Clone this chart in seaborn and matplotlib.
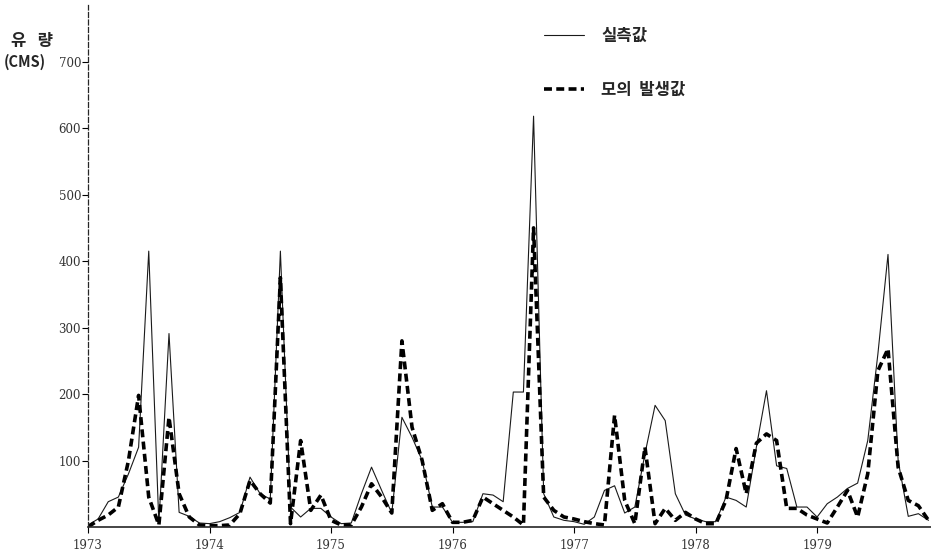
import numpy as np
import pandas as pd
import matplotlib
matplotlib.use('Agg')
from matplotlib import pyplot as plt
import seaborn as sns

# monthly flow 1973-01 .. 1979-12 (CMS)
observed = [3, 12, 38, 45, 80, 120, 415, 5, 291, 22, 16, 6,
            5, 8, 14, 22, 75, 50, 42, 415, 30, 15, 28, 28,
            15, 5, 6, 50, 90, 55, 21, 165, 135, 100, 30, 30,
            7, 7, 8, 50, 48, 38, 203, 203, 618, 50, 15, 10,
            8, 4, 15, 55, 62, 21, 30, 110, 183, 160, 50, 18,
            12, 8, 8, 45, 40, 30, 120, 205, 92, 88, 30, 30,
            15, 35, 45, 58, 66, 130, 260, 410, 100, 16, 20, 10]
simulated = [0, 10, 18, 30, 100, 198, 45, 3, 165, 50, 15, 3,
             2, 2, 3, 20, 70, 50, 36, 375, 5, 130, 25, 48,
             10, 3, 3, 30, 65, 45, 21, 280, 150, 100, 25, 35,
             7, 7, 10, 45, 35, 25, 15, 3, 450, 45, 25, 15,
             12, 8, 5, 3, 168, 40, 5, 120, 5, 28, 10, 22,
             12, 5, 5, 40, 118, 50, 126, 140, 130, 28, 28, 18,
             12, 6, 30, 55, 15, 80, 235, 268, 90, 40, 32, 10]
years = ['1973', '1974', '1975', '1976', '1977', '1978', '1979']
y_ticks = [100, 200, 300, 400, 500, 600, 700]
series_names = ['실측값', '모의  발생값']

df = pd.DataFrame({'month': np.arange(len(observed)),
                   series_names[0]: observed,
                   series_names[1]: simulated})

sns.set_style('white')
plt.rcParams['font.family'] = ['Noto Sans CJK KR', 'DejaVu Sans']

fig = plt.figure(figsize=(9.31, 5.51), dpi=100)
ax = fig.add_axes([0.0945, 0.0436, 0.905, 0.947])

sns.lineplot(data=df, x='month', y=series_names[0], ax=ax, color='#1a1a1a',
             linewidth=0.8, label=series_names[0])
sns.lineplot(data=df, x='month', y=series_names[1], ax=ax, color='black',
             linewidth=2.6, dashes=False, label=series_names[1])
ax.lines[1].set_linestyle((0, (2.2, 1.2)))

ax.set_xlim(0, 83.2)
ax.set_ylim(0, 785)
ax.set_xlabel('')
ax.set_ylabel('')

ax.set_xticks([12 * i for i in range(len(years))])
ax.set_xticklabels(years, family='DejaVu Serif', fontsize=8.5, color='#333333')
ax.set_yticks(y_ticks)
ax.set_yticklabels([str(v) for v in y_ticks], family='DejaVu Serif',
                   fontsize=8.5, color='#333333')
ax.tick_params(axis='both', direction='out', length=4, width=0.8, color='black',
               left=True, bottom=True)
ax.tick_params(axis='y', pad=1)
ax.tick_params(axis='x', pad=5)

for s in ['top', 'right']:
    ax.spines[s].set_visible(False)
ax.spines['left'].set_linestyle((0, (4, 2)))
ax.spines['left'].set_linewidth(0.9)
ax.spines['bottom'].set_linewidth(1.2)

leg = ax.legend(handles=ax.lines[:2], labels=series_names, frameon=False,
                loc='upper left', bbox_to_anchor=(0.524, 0.987), handlelength=2.4,
                handletextpad=1.0, labelspacing=2.15,
                prop={'family': 'Noto Sans CJK KR', 'weight': 'bold', 'size': 12})

fig.text(0.012, 0.925, '유   량', fontsize=12, fontweight='bold', va='center')
fig.text(0.004, 0.887, '(CMS)', fontsize=10.5, fontweight='bold', va='center')

fig.savefig('out.png', dpi=100)
